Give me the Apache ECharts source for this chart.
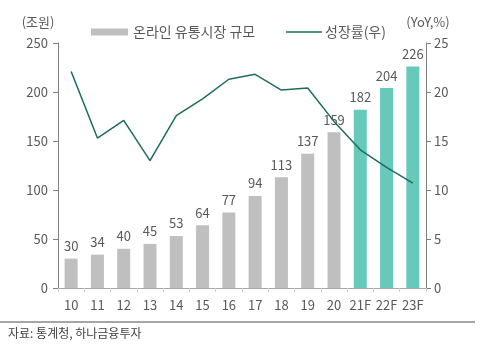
<!DOCTYPE html>
<html>
<head>
<meta charset="utf-8">
<script src="https://cdn.jsdelivr.net/npm/echarts@6/dist/echarts.min.js"></script>
<style>
html,body{margin:0;padding:0;background:#fff;}
#c{width:489px;height:348px;}
</style>
</head>
<body>
<div id="c"></div>
<script>
const categories = ['10','11','12','13','14','15','16','17','18','19','20','21F','22F','23F'];
const marketSize = [30,34,40,45,53,64,77,94,113,137,159,182,204,226];
const growthRate = [22.1,15.3,17.1,13.0,17.6,19.3,21.3,21.8,20.2,20.4,17.0,14.1,12.3,10.7];
const forecastStart = 11;

const FONT = '"Noto Sans CJK KR", "Noto Sans", sans-serif';
const TXT = '#595959';
const GRAY = '#BFBFBF';
const TEAL = '#66C9BA';
const LINE = '#1E6B5E';

const chart = echarts.init(document.getElementById('c'), null, {renderer:'canvas'});
chart.setOption({
  animation:false,
  textStyle:{fontFamily:FONT},
  grid:{left:58, right:63, top:43, bottom:60, containLabel:false},
  legend:[{
    left:91, top:25, padding:0, itemWidth:37, itemHeight:7,
    data:[{name:'온라인 유통시장 규모', icon:'rect', itemStyle:{color:GRAY}}],
    textStyle:{fontFamily:FONT, fontSize:14, color:TXT}
  },{
    left:286, top:25, padding:0, itemWidth:36, itemHeight:1.5,
    data:[{name:'성장률(우)', icon:'rect', itemStyle:{color:LINE}}],
    textStyle:{fontFamily:FONT, fontSize:14, color:TXT, padding:[0,0,0,-2]}
  }],
  xAxis:{
    type:'category', data:categories, boundaryGap:true,
    axisLine:{lineStyle:{color:'#A6A6A6', width:1}},
    axisTick:{show:true, length:4, interval:0, lineStyle:{color:'#D0D0D0'}},
    axisLabel:{color:TXT, fontSize:13, margin:11, interval:0, fontFamily:FONT}
  },
  yAxis:[{
    type:'value', min:0, max:250, interval:50,
    name:'(조원)', nameLocation:'end', nameGap:14,
    nameTextStyle:{color:TXT, fontSize:13, fontFamily:FONT, align:'center', padding:[0,0,0,-40]},
    axisLine:{show:true, lineStyle:{color:'#7F7F7F'}},
    axisTick:{show:true, length:5, lineStyle:{color:'#7F7F7F'}},
    splitLine:{show:false},
    axisLabel:{color:TXT, fontSize:13, margin:10, fontFamily:FONT}
  },{
    type:'value', min:0, max:25, interval:5,
    name:'(YoY,%)', nameLocation:'end', nameGap:14,
    nameTextStyle:{color:TXT, fontSize:13, fontFamily:FONT, align:'center', padding:[0,0,0,4]},
    axisLine:{show:true, lineStyle:{color:'#7F7F7F'}},
    axisTick:{show:true, length:5, lineStyle:{color:'#7F7F7F'}},
    splitLine:{show:false},
    axisLabel:{color:TXT, fontSize:13, margin:8, fontFamily:FONT}
  }],
  series:[{
    name:'온라인 유통시장 규모', type:'bar', yAxisIndex:0, barWidth:13,
    data:marketSize.map((v,i)=>({value:v, itemStyle:{color: i>=forecastStart?TEAL:GRAY}})),
    label:{show:true, position:'top', distance:6, color:TXT, fontSize:13, fontFamily:FONT}
  },{
    name:'성장률(우)', type:'line', yAxisIndex:1, data:growthRate,
    symbol:'none', showSymbol:false,
    lineStyle:{color:LINE, width:1.5}, itemStyle:{color:LINE}
  }],
  graphic:[{
    type:'line', shape:{x1:0, y1:322, x2:475, y2:322},
    style:{stroke:'#A6A6A6', lineWidth:2}
  },{
    type:'text', left:8, top:327,
    style:{text:'자료: 통계청, 하나금융투자', fill:'#404040', font:'12px "Noto Sans CJK KR", sans-serif'}
  }]
});
</script>
</body>
</html>
